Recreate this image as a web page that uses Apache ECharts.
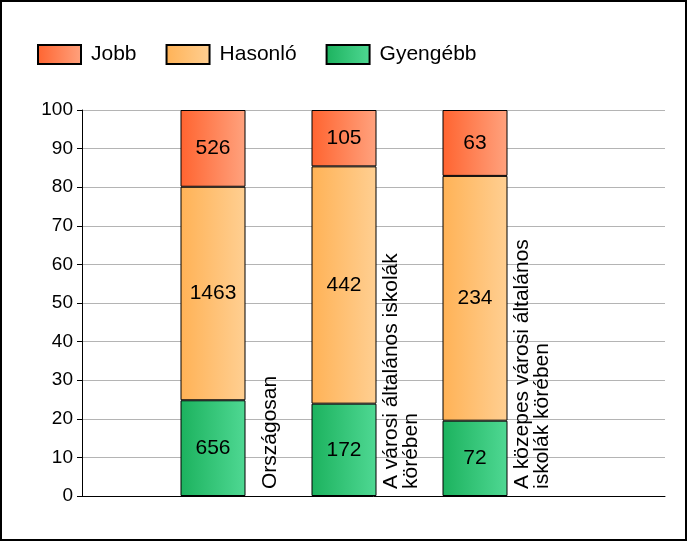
<!DOCTYPE html>
<html>
<head>
<meta charset="utf-8">
<script src="https://cdn.jsdelivr.net/npm/echarts@6/dist/echarts.min.js"></script>
<style>
  html, body { margin: 0; padding: 0; background: #fff; }
  #main { width: 687px; height: 541px; border: 2px solid #000; box-sizing: border-box; }
</style>
</head>
<body>
<div id="main"></div>
<script>
var categories = ['Országosan', 'A városi általános iskolák\nkörében', 'A közepes városi általános\niskolák körében'];
var jobb = [526, 105, 63];
var hasonlo = [1463, 442, 234];
var gyengebb = [656, 172, 72];
var yTicks = [0, 100, 10]; // min, max, interval

var font = 'Liberation Sans, Arial, sans-serif';

// blank slot before and after, so the bars land on the category points
var slots = [''].concat(categories, ['']);

function pct(arr) {
  var out = ['-'];
  for (var i = 0; i < arr.length; i++) {
    var total = jobb[i] + hasonlo[i] + gyengebb[i];
    out.push(arr[i] / total * 100);
  }
  out.push('-');
  return out;
}

function grad(c1, c2) {
  return new echarts.graphic.LinearGradient(0, 0, 1, 0, [
    {offset: 0, color: c1},
    {offset: 1, color: c2}
  ]);
}

function barSeries(name, counts, c1, c2) {
  return {
    name: name,
    type: 'bar',
    stack: 'all',
    xAxisIndex: 1,
    yAxisIndex: 1,
    barWidth: 65,
    data: pct(counts),
    itemStyle: {color: grad(c1, c2), borderColor: '#000', borderWidth: 1},
    label: {
      show: true,
      position: 'inside',
      color: '#000',
      fontFamily: font,
      fontSize: 21,
      formatter: function (p) { return counts[p.dataIndex - 1]; }
    }
  };
}

var myChart = echarts.init(document.getElementById('main'));

var option = {
  animation: false,
  legend: {
    left: 30,
    top: 37,
    itemWidth: 43,
    itemHeight: 19,
    itemGap: 29,
    icon: 'rect',
    data: ['Jobb', 'Hasonló', 'Gyengébb'],
    textStyle: {color: '#000', fontFamily: font, fontSize: 21, padding: [0, 0, 0, 5]}
  },
  grid: [
    {left: 80, top: 108, width: 583, height: 386},   // axes + gridlines
    {left: 80, top: 108, width: 524, height: 386},   // bars
    {left: 137, top: 108, width: 524, height: 386}   // category labels beside bars
  ],
  xAxis: [
    {
      gridIndex: 0, type: 'value', min: 0, max: 1,
      axisLine: {show: true, lineStyle: {color: '#000', width: 1}},
      axisTick: {show: false}, axisLabel: {show: false}, splitLine: {show: false}
    },
    {
      gridIndex: 1, type: 'category', boundaryGap: false, data: slots,
      axisLine: {show: false}, axisTick: {show: false}, axisLabel: {show: false}
    },
    {
      gridIndex: 2, type: 'category', boundaryGap: false, data: slots,
      axisLine: {show: false}, axisTick: {show: false},
      axisLabel: {
        show: true, inside: true, rotate: 90, margin: 7, interval: 0,
        color: '#000', fontFamily: font, fontSize: 21, lineHeight: 20
      }
    }
  ],
  yAxis: [
    {
      gridIndex: 0, type: 'value', min: yTicks[0], max: yTicks[1], interval: yTicks[2],
      axisLine: {show: true, lineStyle: {color: '#000', width: 1}},
      axisTick: {show: true, length: 5, lineStyle: {color: '#000'}},
      axisLabel: {color: '#000', fontFamily: font, fontSize: 19, margin: 9},
      splitLine: {show: true, lineStyle: {color: '#b4b4b4', width: 1}}
    },
    {
      gridIndex: 1, type: 'value', min: yTicks[0], max: yTicks[1],
      show: false
    },
    {
      gridIndex: 2, type: 'value', min: yTicks[0], max: yTicks[1],
      show: false
    }
  ],
  series: [
    barSeries('Gyengébb', gyengebb, '#1cb25e', '#4fd893'),
    barSeries('Hasonló', hasonlo, '#ffb256', '#ffcf92'),
    barSeries('Jobb', jobb, '#ff6430', '#ffa27e')
  ]
};

myChart.setOption(option);
</script>
</body>
</html>
